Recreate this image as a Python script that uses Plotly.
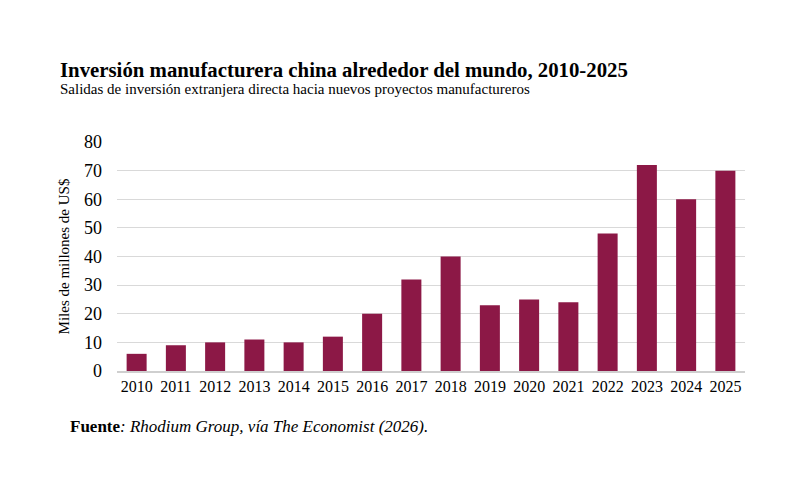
import plotly.graph_objects as go

# Datos
anios = [str(a) for a in range(2010, 2026)]
inversion = [6, 9, 10, 11, 10, 12, 20, 32, 40, 23, 25, 24, 48, 72, 60, 70]

# la página añade 8px de margen al cuerpo
OFF = 8
W, H = 811, 486
L, R, T, B = 117 - OFF, 66 + OFF, 142 - OFF, 115 + OFF
pw, ph = W - L - R, H - T - B


def px(x):
    return (x - OFF - L) / pw


def py(y):
    return (H - B - (y - OFF)) / ph


serif = "Liberation Serif"

fig = go.Figure()
fig.add_trace(go.Bar(
    x=anios,
    y=inversion,
    marker=dict(color="#8C1846", line=dict(width=0)),
    width=0.51,
))

fig.update_layout(
    width=W, height=H,
    margin=dict(l=L, r=R, t=T, b=B),
    plot_bgcolor="white",
    paper_bgcolor="white",
    font=dict(family=serif, color="black"),
    showlegend=False,
    xaxis=dict(
        type="category",
        showgrid=False,
        showline=True, linecolor="#cfcfcf", linewidth=2,
        ticks="", tickfont=dict(family=serif, size=16),
    ),
    yaxis=dict(
        range=[0, 80], dtick=10,
        showgrid=True, gridcolor="#d9d9d9", gridwidth=1,
        zeroline=False, showline=False, ticks="",
        tickfont=dict(family=serif, size=18), ticklabelstandoff=14,
        title=dict(text="Miles de millones de US$", font=dict(family=serif, size=15), standoff=10),
    ),
    annotations=[
        dict(text="<b>Inversión manufacturera china alrededor del mundo, 2010-2025</b>",
             xref="paper", yref="paper", x=px(58), y=py(70),
             xanchor="left", yanchor="middle", showarrow=False,
             font=dict(family=serif, size=20.8)),
        dict(text="Salidas de inversión extranjera directa hacia nuevos proyectos manufactureros",
             xref="paper", yref="paper", x=px(58), y=py(89),
             xanchor="left", yanchor="middle", showarrow=False,
             font=dict(family=serif, size=15)),
        dict(text="<b>Fuente</b><i>: Rhodium Group, vía The Economist (2026).</i>",
             xref="paper", yref="paper", x=px(68), y=py(426),
             xanchor="left", yanchor="middle", showarrow=False,
             font=dict(family=serif, size=17)),
    ],
)

fig.write_html("out.html")
